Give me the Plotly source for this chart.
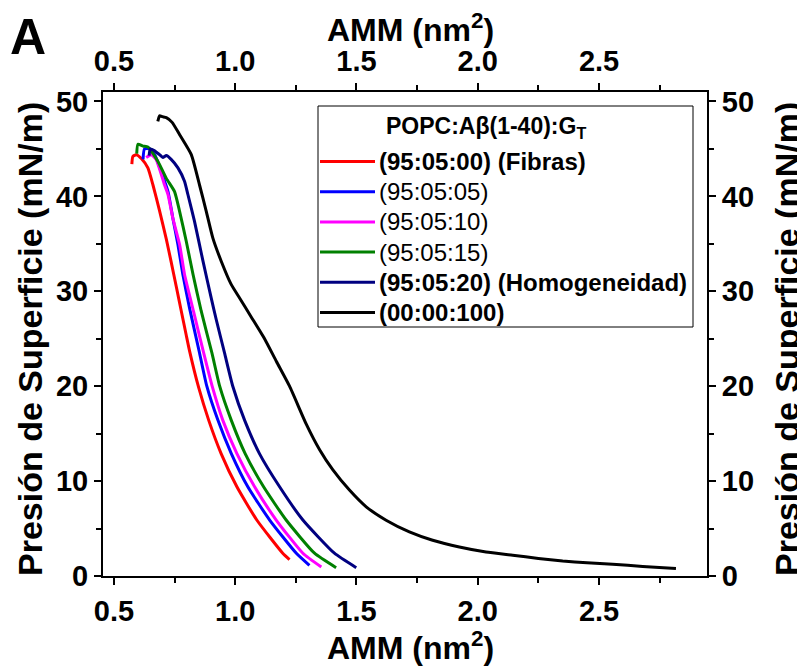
import plotly.graph_objects as go

# ---- data ----
names = [
    "<b>(95:05:00) (Fibras)</b>",
    "(95:05:05)",
    "(95:05:10)",
    "(95:05:15)",
    "<b>(95:05:20) (Homogeneidad)</b>",
    "<b>(00:00:100)</b>",
]
colors = ["#ff0000", "#0000ff", "#ff00ff", "#008000", "#000080", "#000000"]

x_red = [0.574, 0.578, 0.592, 0.613, 0.640, 0.661, 0.688, 0.716, 0.736, 0.757, 0.777, 0.798, 0.812, 0.849, 0.891, 0.942, 1.007, 1.089, 1.196, 1.224]
y_red = [43.4, 44.2, 44.4, 44.0, 43.0, 41.2, 38.5, 35.5, 33.1, 30.5, 28.0, 25.4, 23.7, 19.9, 16.4, 12.9, 9.4, 5.9, 2.4, 1.73]

x_blue = [0.620, 0.626, 0.647, 0.668, 0.695, 0.723, 0.743, 0.764, 0.784, 0.812, 0.853, 0.883, 0.929, 0.984, 1.052, 1.142, 1.252, 1.306]
y_blue = [43.9, 45.0, 45.0, 44.4, 42.6, 40.5, 37.7, 34.9, 31.8, 28.2, 23.5, 20.0, 16.4, 12.9, 9.4, 5.9, 2.4, 1.13]

x_mag = [0.633, 0.654, 0.674, 0.709, 0.723, 0.743, 0.771, 0.791, 0.828, 0.870, 0.905, 0.949, 1.007, 1.080, 1.169, 1.279, 1.355]
y_mag = [44.1, 44.4, 43.9, 41.2, 40.2, 37.7, 34.9, 31.8, 27.9, 23.5, 20.0, 16.4, 12.9, 9.4, 5.9, 2.4, 0.95]

x_green = [0.594, 0.599, 0.620, 0.640, 0.681, 0.716, 0.750, 0.771, 0.798, 0.826, 0.860, 0.904, 0.936, 0.984, 1.041, 1.117, 1.210, 1.327, 1.416]
y_green = [44.5, 45.5, 45.3, 45.2, 43.7, 41.9, 40.5, 38.4, 35.3, 31.8, 27.9, 23.5, 20.0, 16.4, 12.9, 9.4, 5.9, 2.4, 0.88]

x_navy = [0.645, 0.650, 0.668, 0.688, 0.702, 0.716, 0.736, 0.764, 0.791, 0.805, 0.832, 0.867, 0.901, 0.922, 0.956, 0.990, 1.039, 1.100, 1.183, 1.279, 1.409, 1.499]
y_navy = [44.3, 45.0, 44.8, 44.4, 44.1, 44.3, 43.9, 43.0, 41.6, 40.2, 37.4, 33.2, 29.3, 27.0, 23.5, 20.0, 16.4, 12.9, 9.4, 5.9, 2.4, 0.88]

x_black = [0.681, 0.688, 0.700, 0.716, 0.740, 0.771, 0.819, 0.853, 0.881, 0.908, 0.942, 0.984, 1.018, 1.066, 1.121, 1.170, 1.224, 1.293, 1.348, 1.402, 1.471, 1.540, 1.622, 1.718, 1.814, 1.924, 2.034, 2.144, 2.250, 2.350, 2.450, 2.556, 2.680, 2.817]
y_black = [47.9, 48.5, 48.4, 48.3, 47.8, 46.5, 44.4, 41.2, 38.4, 35.6, 33.2, 30.7, 29.3, 27.3, 25.0, 22.6, 20.0, 16.0, 13.3, 11.2, 9.05, 7.29, 5.88, 4.65, 3.77, 3.06, 2.53, 2.19, 1.85, 1.58, 1.40, 1.24, 1.0, 0.78]

xs = [x_red, x_blue, x_mag, x_green, x_navy, x_black]
ys = [y_red, y_blue, y_mag, y_green, y_navy, y_black]

x_range = [0.455, 2.945]
y_range = [0, 51]
x_ticks = [0.5, 1.0, 1.5, 2.0, 2.5]
x_ticklabels = ["0.5", "1.0", "1.5", "2.0", "2.5"]
y_ticks = [0, 10, 20, 30, 40, 50]

x_title = "<b>AMM (nm<sup>2</sup>)</b>"
y_title = "<b>Presión de Superficie (mN/m)</b>"
legend_title = "<b>POPC:Aβ(1-40):G<sub>T</sub></b>"

# ---- layout geometry (figure pixels; the page shows the figure offset by OFF) ----
W, H = 805, 666
OFF = 8
L, R, T, B = 95, 106, 84, 98
PW, PH = W - L - R, H - T - B


def px(sx):
    return (sx - OFF - L) / PW


def py(sy):
    return (H - B - (sy - OFF)) / PH


FONT = "Liberation Sans, Arial, sans-serif"
tickfont = dict(family=FONT, size=29, color="black", weight="bold")
xtitlefont = dict(family=FONT, size=32, color="black")
ytitlefont = dict(family=FONT, size=34, color="black")

fig = go.Figure()
for i in range(len(xs)):
    fig.add_trace(go.Scatter(
        x=xs[i], y=ys[i], mode="lines", name=names[i],
        line=dict(color=colors[i], width=3, shape="spline", smoothing=0.5),
        showlegend=False,
    ))

common_x = dict(
    range=x_range, tickvals=x_ticks, ticktext=x_ticklabels,
    showline=True, linecolor="black", linewidth=2,
    ticks="outside", ticklen=7, tickwidth=2, tickcolor="black",
    minor=dict(ticks="outside", dtick=0.25, ticklen=5, tickwidth=2, tickcolor="black"),
    showgrid=False, zeroline=False, tickfont=tickfont, automargin=False,
)
common_y = dict(
    range=y_range, tickvals=y_ticks,
    showline=True, linecolor="black", linewidth=2,
    ticks="outside", ticklen=7, tickwidth=2, tickcolor="black",
    minor=dict(ticks="outside", dtick=5, ticklen=5, tickwidth=2, tickcolor="black"),
    showgrid=False, zeroline=False, tickfont=tickfont, automargin=False,
)

shapes = []
annotations = []
# axis titles
annotations.append(dict(text=x_title, xref="paper", yref="paper", x=px(410), y=py(28),
                        xanchor="center", yanchor="middle", showarrow=False, font=xtitlefont))
annotations.append(dict(text=x_title, xref="paper", yref="paper", x=px(410), y=py(646),
                        xanchor="center", yanchor="middle", showarrow=False, font=xtitlefont))
annotations.append(dict(text=y_title, xref="paper", yref="paper", x=px(30), y=py(339),
                        xanchor="center", yanchor="middle", textangle=-90, showarrow=False, font=ytitlefont))
annotations.append(dict(text=y_title, xref="paper", yref="paper", x=px(787), y=py(339),
                        xanchor="center", yanchor="middle", textangle=-90, showarrow=False, font=ytitlefont))
# legend box
shapes.append(dict(type="rect", xref="paper", yref="paper",
                   x0=px(318), x1=px(693), y0=py(327), y1=py(106),
                   line=dict(color="black", width=1), fillcolor="white", layer="above"))
annotations.append(dict(text=legend_title, xref="paper", yref="paper",
                        x=px(486), y=py(128), xanchor="center", yanchor="middle",
                        showarrow=False, font=dict(family=FONT, size=23, color="black")))
for i in range(len(names)):
    yy = py(161.5 + 30.2 * i)
    shapes.append(dict(type="line", xref="paper", yref="paper",
                       x0=px(320), x1=px(375), y0=yy, y1=yy,
                       line=dict(color=colors[i], width=3), layer="above"))
    annotations.append(dict(text=names[i], xref="paper", yref="paper",
                            x=px(377), y=yy, xanchor="left", yanchor="middle",
                            showarrow=False, font=dict(family=FONT, size=24, color="black")))
# panel letter
annotations.append(dict(text="<b>A</b>", xref="paper", yref="paper",
                        x=px(28), y=py(37), xanchor="center", yanchor="middle",
                        showarrow=False, font=dict(family=FONT, size=50, color="black")))

fig.update_layout(
    width=W, height=H,
    margin=dict(l=L, r=R, t=T, b=B),
    paper_bgcolor="white", plot_bgcolor="white",
    xaxis=dict(**common_x, side="bottom", ticklabelstandoff=1),
    xaxis2=dict(**common_x, side="top", overlaying="x", matches="x"),
    yaxis=dict(**common_y, side="left"),
    yaxis2=dict(**common_y, side="right", overlaying="y", matches="y"),
    showlegend=False,
    shapes=shapes,
    annotations=annotations,
)
# invisible trace so the secondary (top / right) axes are drawn
fig.add_trace(go.Scatter(x=[x_range[0]], y=[y_range[0]], xaxis="x2", yaxis="y2",
                         mode="markers", marker=dict(opacity=0), showlegend=False, hoverinfo="skip"))

fig.write_html("out.html")
